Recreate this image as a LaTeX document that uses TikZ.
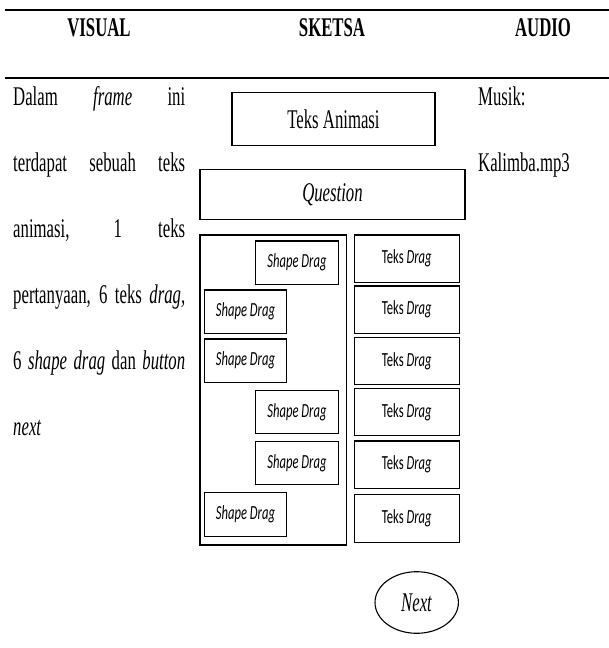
\documentclass[tikz,border=0pt]{standalone}
\usepackage{fontspec}
\setmainfont{Liberation Serif}[FakeStretch=0.62]
\newfontfamily\dragfont{Carlito}[FakeStretch=0.63]
\usetikzlibrary{shapes.geometric}
\tikzset{
  rulel/.style={line width=2pt},
  bx/.style={draw, line width=1.1pt, inner sep=0pt, align=center},
  sbox/.style={bx, minimum width=82.5pt, minimum height=43.5pt, font=\dragfont\fontsize{20}{24}\selectfont\itshape},
  tbox/.style={bx, minimum width=104.7pt, minimum height=47.5pt, font=\dragfont\fontsize{20}{24}\selectfont},
  txt/.style={inner sep=0pt, anchor=base west},
  hdr/.style={inner sep=0pt, anchor=base, font=\fontsize{27}{32}\selectfont\bfseries},
}
\begin{document}
\begin{tikzpicture}[x=1pt, y=-1pt, font=\fontsize{27}{32}\selectfont]
\useasboundingbox (0,0) rectangle (609,648);
% rules
\coordinate (r1a) at (5,10); \coordinate (r1b) at (609,10);
\coordinate (r2a) at (5,77.5); \coordinate (r2b) at (609,77.5);
\draw[rulel] (r1a) -- (r1b);
\draw[rulel] (r2a) -- (r2b);
% headers
\node[hdr] (hv) at (99,36.7) {VISUAL};
\node[hdr] (hs) at (332,36.7) {SKETSA};
\node[hdr] (ha) at (543,36.7) {AUDIO};
% visual text
\node[txt] (v1) at (13,105) {\makebox[172pt][s]{Dalam \textit{frame} ini}};
\node[txt] (v2) at (13,171) {\makebox[172pt][s]{terdapat sebuah teks}};
\node[txt] (v3) at (13,237) {\makebox[172pt][s]{animasi, 1 teks}};
\node[txt] (v4) at (13,303) {\makebox[172pt][s]{pertanyaan, 6 teks \textit{drag,}}};
\node[txt] (v5) at (13,369) {\makebox[172pt][s]{6 \textit{shape drag} dan \textit{button}}};
\node[txt] (v6) at (13,435) {\textit{next}};
% audio
\node[txt] (a1) at (478,105) {Musik:};
\node[txt] (a2) at (478,171) {Kalimba.mp3};
% sketch
\node[bx, minimum width=203pt, minimum height=53.5pt] (anim) at (333.5,118.8) {Teks Animasi};
\node[bx, minimum width=265pt, minimum height=50pt] (quest) at (332.5,194.3) {\textit{Question}};
\node[bx, minimum width=146.7pt, minimum height=310pt] (outer) at (273.35,390) {};
\node[sbox] (s1) at (297,262.7) {Shape Drag};
\node[sbox] (s2) at (245.5,311.7) {Shape Drag};
\node[sbox] (s3) at (245.5,360.7) {Shape Drag};
\node[sbox] (s4) at (297,412) {Shape Drag};
\node[sbox] (s5) at (297,463) {Shape Drag};
\node[sbox] (s6) at (245.5,514.5) {Shape Drag};
\node[tbox] (t1) at (406.7,258.7) {Teks \textit{Drag}};
\node[tbox] (t2) at (406.7,309.7) {Teks \textit{Drag}};
\node[tbox] (t3) at (406.7,360.8) {Teks \textit{Drag}};
\node[tbox] (t4) at (406.7,412) {Teks \textit{Drag}};
\node[tbox] (t5) at (406.7,464.7) {Teks \textit{Drag}};
\node[tbox] (t6) at (406.7,518.3) {Teks \textit{Drag}};
\node[draw, line width=1.1pt, ellipse, inner sep=0pt, minimum width=83.4pt, minimum height=61.6pt] (next) at (416.7,602.5) {\textit{Next}};
\end{tikzpicture}
\end{document}
